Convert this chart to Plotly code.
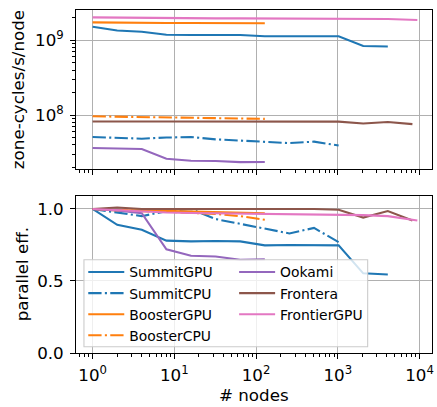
import plotly.graph_objects as go

# ---------------- data ----------------
summit_gpu_nodes = [1, 2, 4, 8, 16, 32, 64, 128, 256, 512, 1024, 2048, 4096]
summit_gpu_perf = [1.52e9, 1.353e9, 1.30e9, 1.186e9, 1.178e9, 1.183e9, 1.178e9, 1.135e9, 1.14e9, 1.135e9, 1.135e9, 8.41e8, 8.28e8]
summit_gpu_eff = [1.0, 0.89, 0.855, 0.78, 0.775, 0.778, 0.775, 0.747, 0.75, 0.747, 0.747, 0.553, 0.545]

summit_cpu_nodes = [1, 2, 4, 8, 16, 32, 64, 128, 256, 512, 1024]
summit_cpu_perf = [5.07e7, 4.95e7, 4.82e7, 4.99e7, 5.07e7, 4.72e7, 4.54e7, 4.39e7, 4.21e7, 4.40e7, 3.90e7]
summit_cpu_eff = [1.0, 0.975, 0.95, 0.985, 1.0, 0.93, 0.895, 0.865, 0.83, 0.868, 0.77]

booster_gpu_nodes = [1, 2, 4, 8, 16, 32, 64, 128]
booster_gpu_perf = [1.74e9, 1.72e9, 1.72e9, 1.71e9, 1.705e9, 1.705e9, 1.70e9, 1.69e9]
booster_gpu_eff = [1.0, 0.99, 0.99, 0.985, 0.98, 0.98, 0.975, 0.97]

booster_cpu_nodes = [1, 2, 4, 8, 16, 32, 64, 128]
booster_cpu_perf = [9.6e7, 9.5e7, 9.46e7, 9.41e7, 9.36e7, 9.26e7, 9.12e7, 8.88e7]
booster_cpu_eff = [1.0, 0.99, 0.985, 0.98, 0.975, 0.965, 0.95, 0.925]

ookami_nodes = [1, 2, 4, 8, 16, 32, 64, 128]
ookami_perf = [3.61e7, 3.57e7, 3.50e7, 2.60e7, 2.44e7, 2.42e7, 2.34e7, 2.35e7]
ookami_eff = [1.0, 0.99, 0.97, 0.72, 0.675, 0.67, 0.647, 0.651]

frontera_nodes = [1, 2, 4, 8, 16, 32, 64, 128, 256, 512, 1024, 2048, 4096, 8192]
frontera_perf = [8.2e7, 8.28e7, 8.2e7, 8.2e7, 8.2e7, 8.24e7, 8.2e7, 8.2e7, 8.2e7, 8.2e7, 8.16e7, 7.71e7, 8.08e7, 7.54e7]
frontera_eff = [1.0, 1.01, 1.0, 1.0, 1.0, 1.005, 1.0, 1.0, 1.0, 1.0, 0.995, 0.94, 0.985, 0.92]

frontier_gpu_nodes = [1, 2, 4, 8, 16, 32, 64, 128, 256, 512, 1024, 2048, 4096, 9408]
frontier_gpu_perf = [2.03e9, 2.01e9, 2.0e9, 1.98e9, 1.973e9, 1.969e9, 1.969e9, 1.965e9, 1.961e9, 1.959e9, 1.955e9, 1.943e9, 1.929e9, 1.868e9]
frontier_gpu_eff = [1.0, 0.99, 0.985, 0.975, 0.972, 0.97, 0.97, 0.968, 0.966, 0.965, 0.963, 0.957, 0.95, 0.92]

series_names = ["SummitGPU", "SummitCPU", "BoosterGPU", "BoosterCPU", "Ookami", "Frontera", "FrontierGPU"]
series_colors = ["#1f77b4", "#1f77b4", "#ff7f0e", "#ff7f0e", "#9467bd", "#8c564b", "#e377c2"]
dashdot = "13.3px,3.3px,2.1px,3.3px"
series_dash = ["solid", dashdot, "solid", dashdot, "solid", "solid", "solid"]
series_legend = ["legend", "legend", "legend", "legend", "legend2", "legend2", "legend2"]

series = [
    (summit_gpu_nodes, summit_gpu_perf, summit_gpu_eff),
    (summit_cpu_nodes, summit_cpu_perf, summit_cpu_eff),
    (booster_gpu_nodes, booster_gpu_perf, booster_gpu_eff),
    (booster_cpu_nodes, booster_cpu_perf, booster_cpu_eff),
    (ookami_nodes, ookami_perf, ookami_eff),
    (frontera_nodes, frontera_perf, frontera_eff),
    (frontier_gpu_nodes, frontier_gpu_perf, frontier_gpu_eff),
]

x_tick_vals = [1, 10, 100, 1000, 10000]
x_tick_text = ["10<sup>0</sup>", "10<sup>1</sup>", "10<sup>2</sup>", "10<sup>3</sup>", "10<sup>4</sup>"]
y_top_tick_vals = [1e8, 1e9]
y_top_tick_text = ["10<sup>8</sup>", "10<sup>9</sup>"]
y_bot_tick_vals = [0.0, 0.5, 1.0]
y_bot_tick_text = ["0.0", "0.5", "1.0"]

# ---------------- figure ----------------
W, H = 437, 407
ML, MR, MT, MB = 76, 3, 10, 54
PW, PH = W - ML - MR, H - MT - MB

def px_x(px):
    return (px - ML) / PW

def px_y(py):
    return (H - MB - py) / PH

LW = 2.08
FONT = "DejaVu Sans"
fig = go.Figure()

for (xs, perf, eff), name, col, dash, lg in zip(series, series_names, series_colors, series_dash, series_legend):
    fig.add_trace(go.Scatter(x=xs, y=perf, mode="lines", name=name, showlegend=False,
                             line=dict(color=col, width=LW, dash=dash),
                             xaxis="x", yaxis="y"))
for (xs, perf, eff), name, col, dash, lg in zip(series, series_names, series_colors, series_dash, series_legend):
    fig.add_trace(go.Scatter(x=xs, y=eff, mode="lines", name=name, showlegend=True, legend=lg,
                             line=dict(color=col, width=LW, dash=dash),
                             xaxis="x2", yaxis="y2"))

minor_log_x = [m * 10 ** e for e in range(-1, 5) for m in range(2, 10)]
minor_log_y = [m * 10 ** e for e in range(7, 10) for m in range(2, 10)]

axis_common = dict(showline=True, linecolor="black", linewidth=1.1, mirror=True,
                   ticks="outside", ticklen=4.9, tickwidth=1.1, tickcolor="black",
                   showgrid=True, gridcolor="#b0b0b0", gridwidth=1.1, zeroline=False,
                   tickfont=dict(family=FONT, size=16.7, color="black"))

top_y0 = px_y(169.3)
bot_y1 = px_y(195.7)

fig.update_layout(
    width=W, height=H,
    margin=dict(l=ML, r=MR, t=MT, b=MB),
    paper_bgcolor="white", plot_bgcolor="white",
    font=dict(family=FONT, color="black"),
    xaxis=dict(type="log", range=[-0.203, 4.153], domain=[0, 1], anchor="y",
               tickmode="array", tickvals=x_tick_vals, ticktext=x_tick_text, showticklabels=False,
               minor=dict(tickmode="array", tickvals=minor_log_x, ticks="outside", ticklen=2.8,
                          tickwidth=0.8, tickcolor="black", showgrid=False),
               **axis_common),
    yaxis=dict(type="log", range=[7.273, 9.406], domain=[top_y0, 1], anchor="x",
               tickmode="array", tickvals=y_top_tick_vals, ticktext=y_top_tick_text,
               ticklabelstandoff=3,
               minor=dict(tickmode="array", tickvals=minor_log_y, ticks="outside", ticklen=2.8,
                          tickwidth=0.8, tickcolor="black", showgrid=False),
               **axis_common),
    xaxis2=dict(type="log", range=[-0.203, 4.153], domain=[0, 1], anchor="y2", matches="x",
                tickmode="array", tickvals=x_tick_vals, ticktext=x_tick_text,
                ticklabelstandoff=2,
                minor=dict(tickmode="array", tickvals=minor_log_x, ticks="outside", ticklen=2.8,
                           tickwidth=0.8, tickcolor="black", showgrid=False),
                **axis_common),
    yaxis2=dict(range=[0, 1.092], domain=[0, bot_y1], anchor="x2",
                tickmode="array", tickvals=y_bot_tick_vals, ticktext=y_bot_tick_text,
                ticklabelstandoff=3,
                **axis_common),
    legend=dict(x=px_x(83.3), y=px_y(256.5), xanchor="left", yanchor="top",
                bgcolor="rgba(0,0,0,0)", borderwidth=0, itemwidth=36,
                font=dict(family=FONT, size=13.9, color="black"), tracegroupgap=0),
    legend2=dict(x=px_x(235), y=px_y(256.5), xanchor="left", yanchor="top",
                 bgcolor="rgba(0,0,0,0)", borderwidth=0, itemwidth=36,
                 font=dict(family=FONT, size=13.9, color="black"), tracegroupgap=0),
    shapes=[dict(type="rect", xref="paper", yref="paper", layer="above",
                 x0=px_x(84), x1=px_x(369.3), y0=px_y(346.7), y1=px_y(259.7),
                 fillcolor="rgba(255,255,255,0.8)", line=dict(color="#cccccc", width=1.1))],
    annotations=[
        dict(text="zone-cycles/s/node", xref="paper", yref="paper", x=0, y=(top_y0 + 1) / 2,
             xshift=17.5 - ML, xanchor="center", yanchor="middle", textangle=-90, showarrow=False,
             font=dict(family=FONT, size=16.7, color="black")),
        dict(text="parallel eff.", xref="paper", yref="paper", x=0, y=bot_y1 / 2,
             xshift=22 - ML, xanchor="center", yanchor="middle", textangle=-90, showarrow=False,
             font=dict(family=FONT, size=16.7, color="black")),
        dict(text="# nodes", xref="paper", yref="paper", x=0.5, y=0,
             yshift=-(394.5 - (H - MB)), xanchor="center", yanchor="middle", showarrow=False,
             font=dict(family=FONT, size=16.7, color="black")),
    ],
)

fig.write_html("out.html", config={"displayModeBar": False},
               post_script="document.body.style.margin='0px';document.body.style.padding='0px';")
